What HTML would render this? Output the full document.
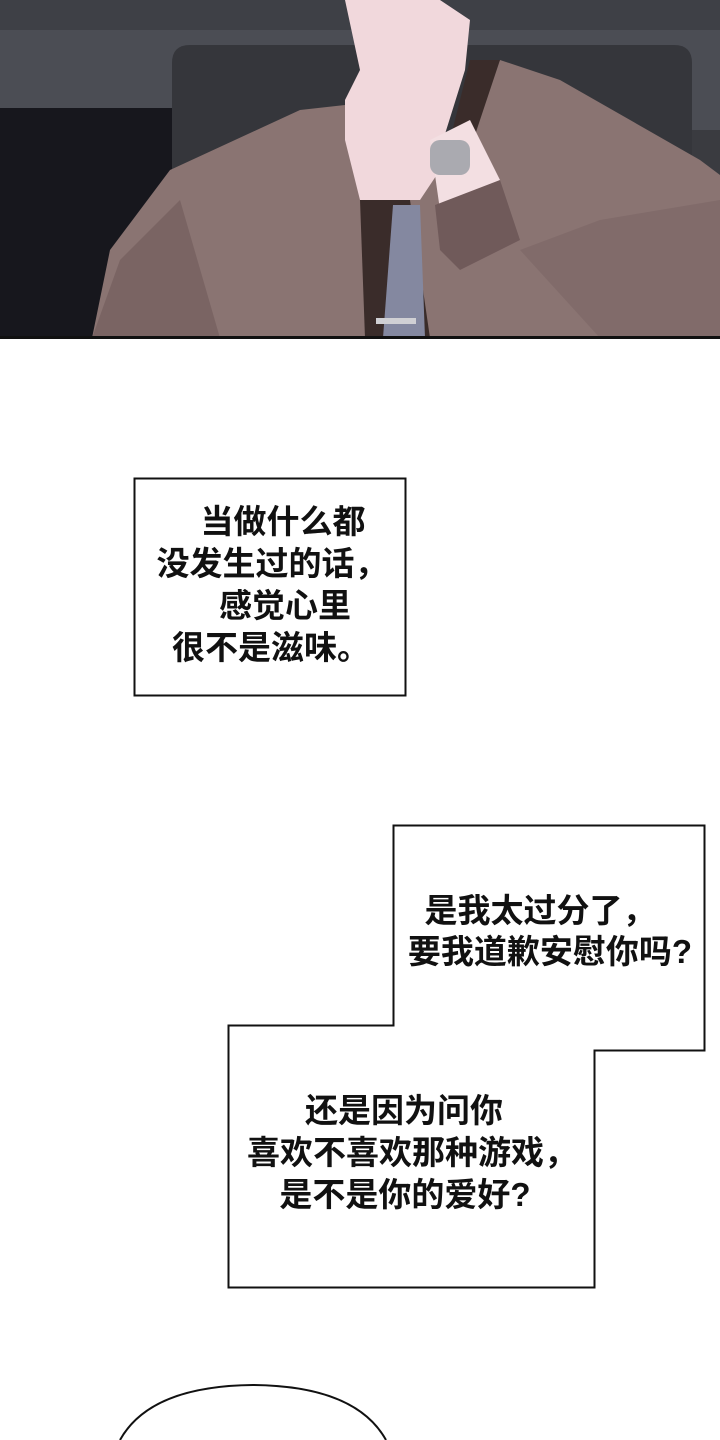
<!DOCTYPE html>
<html><head><meta charset="utf-8"><style>
html,body{margin:0;padding:0;background:#fff;width:720px;height:1440px;overflow:hidden}
svg{display:block}
text{font-family:"Liberation Sans","Noto Sans CJK SC",sans-serif;font-size:33px;fill:#111;text-anchor:middle;font-weight:bold}
</style></head><body>
<svg width="720" height="1440" viewBox="0 0 720 1440">
<rect x="0" y="0" width="720" height="338" fill="#4b4d54"/>
<rect x="0" y="0" width="720" height="30" fill="#3e4046"/>
<rect x="0" y="108" width="175" height="230" fill="#17171d"/>
<path d="M172,338 V63 Q172,45 190,45 H674 Q692,45 692,63 V338 Z" fill="#35363b"/>
<rect x="692" y="130" width="28" height="208" fill="#3a3b40"/>
<polygon points="92,338 110,250 170,170 300,110 345,105 380,190 440,170 500,60 560,80 700,160 720,175 720,338" fill="#8a7472"/>
<polygon points="92,338 120,260 180,200 220,338" fill="#6f5a5a" opacity="0.6"/>
<polygon points="520,250 600,220 720,200 720,338 600,338" fill="#7c6565" opacity="0.6"/>
<polygon points="360,200 410,200 430,338 365,338" fill="#3a2c2a"/>
<polygon points="470,60 500,60 470,150 450,140" fill="#3a2c2a"/>
<polygon points="393,205 420,205 425,338 383,338" fill="#8488a0"/>
<rect x="376" y="318" width="40" height="6" fill="#d0d0d4"/>
<polygon points="345,0 440,0 470,20 465,70 440,150 440,170 420,200 360,200 345,140 345,100 360,70" fill="#f1d8dc"/>
<polygon points="430,140 470,120 500,180 470,215 440,210" fill="#f3dfe2"/>
<polygon points="435,205 500,180 520,240 460,270 440,250" fill="#705a5a"/>
<rect x="430" y="140" width="40" height="35" rx="10" fill="#aaaab0"/>
<rect x="0" y="336" width="720" height="3" fill="#111"/>
<rect x="134.5" y="478.5" width="271" height="217" fill="#fff" stroke="#111" stroke-width="2"/>
<text x="283" y="533">当做什么都</text>
<text x="272" y="575">没发生过的话，</text>
<text x="285" y="617">感觉心里</text>
<text x="271" y="659">很不是滋味。</text>
<polygon points="393.5,825.5 704.5,825.5 704.5,1050.5 594.5,1050.5 594.5,1287.5 228.5,1287.5 228.5,1025.5 393.5,1025.5" fill="#fff" stroke="#111" stroke-width="2"/>
<text x="540" y="922">是我太过分了，</text>
<text x="550" y="963">要我道歉安慰你吗?</text>
<text x="404" y="1122">还是因为问你</text>
<text x="412" y="1164">喜欢不喜欢那种游戏，</text>
<text x="405" y="1206">是不是你的爱好?</text>
<path d="M120,1440 Q150,1386 253,1385 Q356,1386 386,1440" fill="#fff" stroke="#111" stroke-width="2"/>
</svg>
</body></html>
